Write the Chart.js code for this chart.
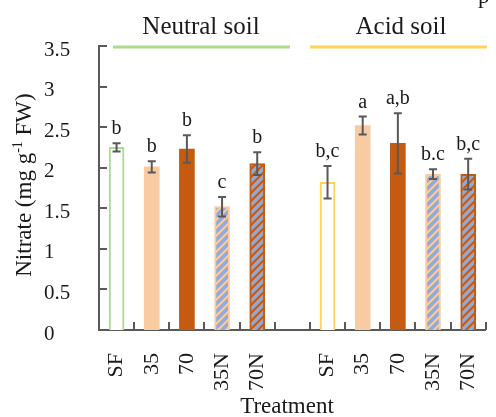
<!DOCTYPE html>
<html>
<head>
<meta charset="utf-8">
<script src="https://cdn.jsdelivr.net/npm/chart.js@4"></script>
<style>
html, body { margin:0; padding:0; background:#fff; overflow:hidden; width:496px; height:417px; }
canvas { position:absolute; left:0; top:0; }
</style>
</head>
<body>
<canvas id="graph" width="510" height="417"></canvas>
<script>
// values
const treatments = ['SF', '35', '70', '35N', '70N'];
const neutralMean = [2.25, 2.01, 2.23, 1.52, 2.05];
const neutralErr = [0.05, 0.07, 0.17, 0.12, 0.14];
const neutralLetters = ['b', 'b', 'b', 'c', 'b'];
const acidMean = [1.82, 2.52, 2.30, 1.92, 1.92];
const acidErr = [0.20, 0.11, 0.37, 0.06, 0.19];
const acidLetters = ['b,c', 'a', 'a,b', 'b.c', 'b,c'];
const yTicks = [0, 0.5, 1, 1.5, 2, 2.5, 3, 3.5];

const SERIF = '"Liberation Serif", "DejaVu Serif", serif';
const AXIS = '#595959';
const TEXT = '#1a1a1a';
const PEACH = '#f8cba2';
const DARK = '#c55a11';
const BLUE = '#8faadc';
const GREEN = '#a9dc8c';
const YELLOW = '#fdd35c';

let canvas = document.getElementById('graph');
let ctx = canvas.getContext('2d');

// diagonal blue stripes over a base colour
function stripes(base) {
    let c = document.createElement('canvas');
    c.width = 8; c.height = 8;
    let g = c.getContext('2d');
    g.fillStyle = base;
    g.fillRect(0, 0, 8, 8);
    g.strokeStyle = BLUE;
    g.lineWidth = 3.5;
    g.beginPath();
    g.moveTo(-2, 10); g.lineTo(10, -2);
    g.moveTo(-2, 2); g.lineTo(2, -2);
    g.moveTo(6, 10); g.lineTo(10, 6);
    g.stroke();
    return ctx.createPattern(c, 'repeat');
}

const labels = [...treatments, '', ...treatments];
const values = [...neutralMean, null, ...acidMean];
const errors = [...neutralErr, null, ...acidErr];
const letters = [...neutralLetters, '', ...acidLetters];

const fills = ['#ffffff', PEACH, DARK, stripes(PEACH), stripes(DARK), null,
               '#ffffff', PEACH, DARK, stripes(PEACH), stripes(DARK)];
const borders = [GREEN, PEACH, DARK, PEACH, DARK, null,
                 YELLOW, PEACH, DARK, PEACH, DARK];
const borderW = [2, 0, 0, 2, 2, 0, 2, 0, 0, 2, 2];

/***************** extras: error bars, letters, ticks, headers, titles *****************/
const extras = {
    id: 'extras',
    afterDatasetsDraw(chart) {
        const c = chart.ctx;
        const x = chart.scales.x, y = chart.scales.y;
        const area = chart.chartArea;
        const meta = chart.getDatasetMeta(0);
        c.save();

        // inner tick marks
        c.strokeStyle = AXIS;
        c.lineWidth = 2;
        c.beginPath();
        yTicks.forEach(t => {
            const py = Math.round(y.getPixelForValue(t));
            c.moveTo(area.left, py); c.lineTo(area.left + 8, py);
        });
        const step = x.getPixelForValue(1) - x.getPixelForValue(0);
        for (let i = 1; i <= labels.length; i++) {
            const px = Math.round(x.getPixelForValue(i) - step / 2);
            c.moveTo(px, area.bottom); c.lineTo(px, area.bottom - 8);
        }
        c.stroke();

        // error bars and letters
        c.font = '20px ' + SERIF;
        c.fillStyle = TEXT;
        c.textAlign = 'center';
        c.textBaseline = 'alphabetic';
        values.forEach((v, i) => {
            if (v === null) return;
            const px = meta.data[i].x;
            const top = y.getPixelForValue(v + errors[i]);
            const bot = y.getPixelForValue(v - errors[i]);
            c.beginPath();
            c.moveTo(px, top); c.lineTo(px, bot);
            c.moveTo(px - 4, top); c.lineTo(px + 4, top);
            c.moveTo(px - 4, bot); c.lineTo(px + 4, bot);
            c.stroke();
            c.fillText(letters[i], px, top - 9);
        });

        // group headers
        c.font = '25px ' + SERIF;
        c.fillText('Neutral soil', 201, 34);
        c.fillText('Acid soil', 401, 34);
        c.lineWidth = 3;
        c.strokeStyle = GREEN;
        c.beginPath(); c.moveTo(113, 47); c.lineTo(290, 47); c.stroke();
        c.strokeStyle = YELLOW;
        c.beginPath(); c.moveTo(310, 47); c.lineTo(487, 47); c.stroke();

        // cut-off letter at the top right
        c.font = '23px ' + SERIF;
        c.textAlign = 'left';
        c.fillText('p', 478, 3);

        // x title
        c.textAlign = 'center';
        c.font = '23px ' + SERIF;
        c.fillText('Treatment', 287, 413);

        // y title with superscript
        c.translate(31, 185);
        c.rotate(-Math.PI / 2);
        const big = '23px ' + SERIF, small = '14px ' + SERIF;
        const p1 = 'Nitrate (mg g', p2 = '-1', p3 = ' FW)';
        c.font = big; const w1 = c.measureText(p1).width, w3 = c.measureText(p3).width;
        c.font = small; const w2 = c.measureText(p2).width;
        let sx = -(w1 + w2 + w3) / 2;
        c.textAlign = 'left';
        c.font = big; c.fillText(p1, sx, 0); sx += w1;
        c.font = small; c.fillText(p2, sx, -9); sx += w2;
        c.font = big; c.fillText(p3, sx, 0);
        c.restore();
    }
};

new Chart(canvas, {
    type: 'bar',
    data: {
        labels: labels,
        datasets: [{
            data: values,
            backgroundColor: fills,
            borderColor: borders,
            borderWidth: borderW,
            barThickness: 15
        }]
    },
    options: {
        responsive: false,
        animation: false,
        devicePixelRatio: 1,
        layout: { padding: { left: 44, top: 46, right: 9.5, bottom: 0 } },
        plugins: { legend: { display: false }, tooltip: { enabled: false } },
        scales: {
            x: {
                offset: true,
                grid: { display: false },
                border: { display: true, color: AXIS, width: 2 },
                ticks: {
                    autoSkip: false,
                    maxRotation: 90,
                    minRotation: 90,
                    padding: 15,
                    color: TEXT,
                    font: { family: SERIF, size: 22 }
                },
                afterFit: (scale) => { scale.height = 87; }
            },
            y: {
                min: 0,
                max: 3.5,
                grid: { display: false },
                border: { display: true, color: AXIS, width: 2 },
                ticks: {
                    stepSize: 0.5,
                    crossAlign: 'far',
                    labelOffset: 4,
                    color: TEXT,
                    font: { family: SERIF, size: 21 },
                    callback: (v) => String(v)
                },
                afterFit: (scale) => { scale.width = 55; }
            }
        }
    },
    plugins: [extras]
});
</script>
</body>
</html>
